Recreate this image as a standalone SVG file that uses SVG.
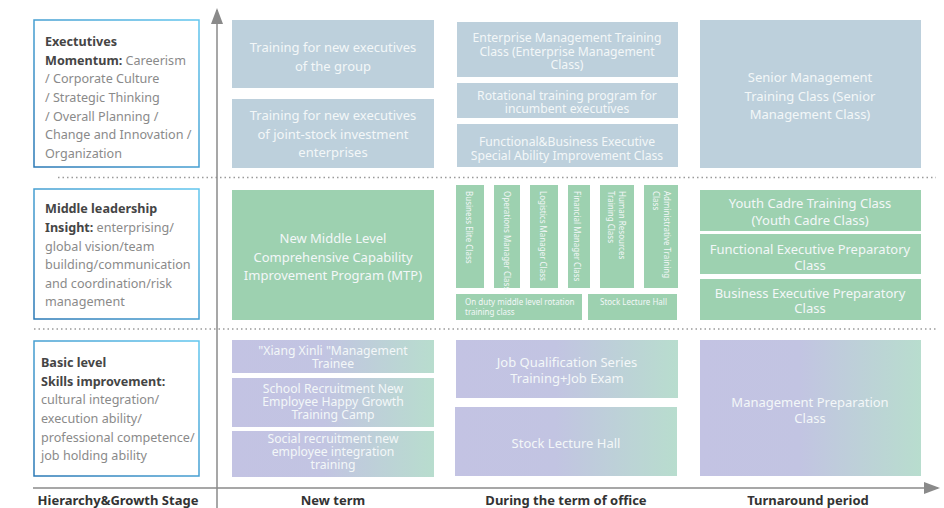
<svg xmlns="http://www.w3.org/2000/svg" width="944" height="508" viewBox="0 0 944 508">
<defs>
<linearGradient id="bord" x1="0" y1="1" x2="1" y2="0">
<stop offset="0" stop-color="#2a78b5"/>
<stop offset="1" stop-color="#62c6ee"/>
</linearGradient>
<linearGradient id="pg" x1="0" y1="0" x2="1" y2="0">
<stop offset="0" stop-color="#c3c3e3"/>
<stop offset="0.45" stop-color="#c2c4e2"/>
<stop offset="1" stop-color="#b8ddce"/>
</linearGradient>
<marker id="ah" markerWidth="16" markerHeight="12" refX="14" refY="6" orient="auto" markerUnits="userSpaceOnUse">
<path d="M0,0 L16,6 L0,12 Z" fill="#8a8a8a"/>
</marker>
<style>
.lbl{fill:#fff;stroke:url(#bord);stroke-width:1.5}
.b{font-family:"Noto Sans","Open Sans",sans-serif;font-size:12.6px;font-weight:bold;fill:#454545}
.n{font-family:"Noto Sans","Open Sans",sans-serif;font-size:12.6px;fill:#8a8a8a}
.blue{fill:#bdd0dc}
.green{fill:#9dd1b0}
.purp{fill:url(#pg)}
.t{font-family:"Noto Sans","Open Sans",sans-serif;font-size:13px;fill:#f3f7f8;text-anchor:middle}
.tt{font-family:"Noto Sans","Open Sans",sans-serif;font-size:12.2px;fill:#f3f7f8;text-anchor:middle}
.ts{font-family:"Noto Sans","Open Sans",sans-serif;font-size:8px;fill:#f3f7f8}
.h{font-family:"Noto Sans","Open Sans",sans-serif;font-size:13px;font-weight:bold;fill:#333;text-anchor:middle}
.dot{stroke:#9a9a9a;stroke-width:1.5;stroke-dasharray:1.5 3;fill:none}
.axis{stroke:#8a8a8a;stroke-width:1.5;fill:none}
</style>
</defs>
<rect width="944" height="508" fill="#fff"/>

<g id="connectors">
<line class="dot" x1="58" y1="177.5" x2="936" y2="177.5"/>
<line class="dot" x1="34" y1="329" x2="936" y2="329"/>
<line class="axis" x1="217" y1="508" x2="217" y2="10" marker-end="url(#ah)"/>
<line class="axis" x1="33" y1="488" x2="938" y2="488" marker-end="url(#ah)"/>
</g>

<g id="label-exec">
<rect class="lbl" x="34" y="20" width="165" height="147"/>
<text class="b" x="45" y="46">Exectutives</text>
<text x="45" y="64.5"><tspan class="b">Momentum:</tspan><tspan class="n"> Careerism</tspan></text>
<text class="n" x="45" y="83">/ Corporate Culture</text>
<text class="n" x="45" y="102">/ Strategic Thinking</text>
<text class="n" x="45" y="120.5">/ Overall Planning /</text>
<text class="n" x="45" y="139">Change and Innovation /</text>
<text class="n" x="45" y="157.5">Organization</text>
</g>

<g id="label-middle">
<rect class="lbl" x="34" y="189" width="165" height="130"/>
<text class="b" x="45" y="213">Middle leadership</text>
<text x="45" y="231.5"><tspan class="b">Insight:</tspan><tspan class="n"> enterprising/</tspan></text>
<text class="n" x="45" y="250.5">global vision/team</text>
<text class="n" x="45" y="269">building/communication</text>
<text class="n" x="45" y="287.5">and coordination/risk</text>
<text class="n" x="45" y="306">management</text>
</g>

<g id="label-basic">
<rect class="lbl" x="34" y="341" width="165" height="135"/>
<text class="b" x="41" y="367">Basic level</text>
<text class="b" x="41" y="385.5">Skills improvement:</text>
<text class="n" x="41" y="404">cultural integration/</text>
<text class="n" x="41" y="423">execution ability/</text>
<text class="n" x="41" y="441.5">professional competence/</text>
<text class="n" x="41" y="460">job holding ability</text>
</g>

<g id="exec-new1">
<rect class="blue" x="232" y="20" width="202" height="68"/>
<text class="t" x="333" y="52">Training for new executives</text>
<text class="t" x="333" y="71">of the group</text>
</g>
<g id="exec-new2">
<rect class="blue" x="232" y="99" width="202" height="69"/>
<text class="t" x="333" y="120">Training for new executives</text>
<text class="t" x="333" y="138.5">of joint-stock investment</text>
<text class="t" x="333" y="157">enterprises</text>
</g>
<g id="exec-term1">
<rect class="blue" x="457" y="22" width="221" height="55"/>
<text class="tt" x="567" y="42">Enterprise Management Training</text>
<text class="tt" x="567" y="56">Class (Enterprise Management</text>
<text class="tt" x="567" y="69">Class)</text>
</g>
<g id="exec-term2">
<rect class="blue" x="457" y="83" width="221" height="35"/>
<text class="tt" x="567" y="99.5">Rotational training program for</text>
<text class="tt" x="567" y="113">incumbent executives</text>
</g>
<g id="exec-term3">
<rect class="blue" x="457" y="124" width="221" height="43"/>
<text class="tt" x="567" y="145.5">Functional&amp;Business Executive</text>
<text class="tt" x="567" y="160">Special Ability Improvement Class</text>
</g>
<g id="exec-turn">
<rect class="blue" x="700" y="20" width="221" height="148"/>
<text class="t" x="810" y="82">Senior Management</text>
<text class="t" x="810" y="100.5">Training Class (Senior</text>
<text class="t" x="810" y="119">Management Class)</text>
</g>

<g id="mid-new">
<rect class="green" x="232" y="190" width="202" height="130"/>
<text class="t" x="333" y="243">New Middle Level</text>
<text class="t" x="333" y="261.5">Comprehensive Capability</text>
<text class="t" x="333" y="280">Improvement Program (MTP)</text>
</g>
<g id="mid-v1">
<rect class="green" x="456" y="185" width="28" height="103"/>
<text class="ts" transform="translate(466,191) rotate(90)">Business Elite Class</text>
</g>
<g id="mid-v2">
<rect class="green" x="494" y="185" width="26" height="103"/>
<text class="ts" transform="translate(504,191) rotate(90)">Operations Manager Class</text>
</g>
<g id="mid-v3">
<rect class="green" x="530" y="185" width="28" height="103"/>
<text class="ts" transform="translate(540,191) rotate(90)">Logistics Manager Class</text>
</g>
<g id="mid-v4">
<rect class="green" x="568" y="185" width="22" height="103"/>
<text class="ts" transform="translate(574,191) rotate(90)">Financial Manager Class</text>
</g>
<g id="mid-v5">
<rect class="green" x="600" y="185" width="34" height="103"/>
<text class="ts" transform="translate(619,191) rotate(90)">Human Resources</text>
<text class="ts" transform="translate(608,191) rotate(90)">Training Class</text>
</g>
<g id="mid-v6">
<rect class="green" x="644" y="185" width="34" height="103"/>
<text class="ts" transform="translate(664,191) rotate(90)">Administrative Training</text>
<text class="ts" transform="translate(653,191) rotate(90)">Class</text>
</g>
<g id="mid-rot">
<rect class="green" x="456" y="294" width="126" height="26"/>
<text class="ts" x="465" y="305">On duty middle level rotation</text>
<text class="ts" x="465" y="314.5">training class</text>
</g>
<g id="mid-stock">
<rect class="green" x="588" y="294" width="89" height="26"/>
<text class="ts" x="600" y="305">Stock Lecture Hall</text>
</g>
<g id="mid-turn1">
<rect class="green" x="700" y="190" width="221" height="41"/>
<text class="t" x="810" y="208">Youth Cadre Training Class</text>
<text class="t" x="810" y="225">(Youth Cadre Class)</text>
</g>
<g id="mid-turn2">
<rect class="green" x="700" y="234" width="221" height="40"/>
<text class="t" x="810" y="254">Functional Executive Preparatory</text>
<text class="t" x="810" y="269.5">Class</text>
</g>
<g id="mid-turn3">
<rect class="green" x="700" y="279" width="221" height="41"/>
<text class="t" x="810" y="297.5">Business Executive Preparatory</text>
<text class="t" x="810" y="313">Class</text>
</g>

<g id="basic-new1">
<rect class="purp" x="232" y="340" width="202" height="33"/>
<text class="tt" x="333" y="354.5">"Xiang Xinli "Management</text>
<text class="tt" x="333" y="367.5">Trainee</text>
</g>
<g id="basic-new2">
<rect class="purp" x="232" y="378" width="202" height="49"/>
<text class="tt" x="333" y="392.5">School Recruitment New</text>
<text class="tt" x="333" y="405.5">Employee Happy Growth</text>
<text class="tt" x="333" y="418.5">Training Camp</text>
</g>
<g id="basic-new3">
<rect class="purp" x="232" y="431" width="202" height="46"/>
<text class="tt" x="333" y="443">Social recruitment new</text>
<text class="tt" x="333" y="456">employee integration</text>
<text class="tt" x="333" y="469">training</text>
</g>
<g id="basic-term1">
<rect class="purp" x="456" y="340" width="222" height="58"/>
<text class="t" x="567" y="367">Job Qualification Series</text>
<text class="t" x="567" y="383">Training+Job Exam</text>
</g>
<g id="basic-term2">
<rect class="purp" x="455" y="407" width="222" height="69"/>
<text class="t" x="566" y="448">Stock Lecture Hall</text>
</g>
<g id="basic-turn">
<rect class="purp" x="700" y="340" width="221" height="136"/>
<text class="t" x="810" y="407">Management Preparation</text>
<text class="t" x="810" y="423">Class</text>
</g>

<g id="headings">
<text class="h" x="118" y="505">Hierarchy&amp;Growth Stage</text>
<text class="h" x="333" y="505">New term</text>
<text class="h" x="566" y="505">During the term of office</text>
<text class="h" x="808" y="505">Turnaround period</text>
</g>
</svg>
